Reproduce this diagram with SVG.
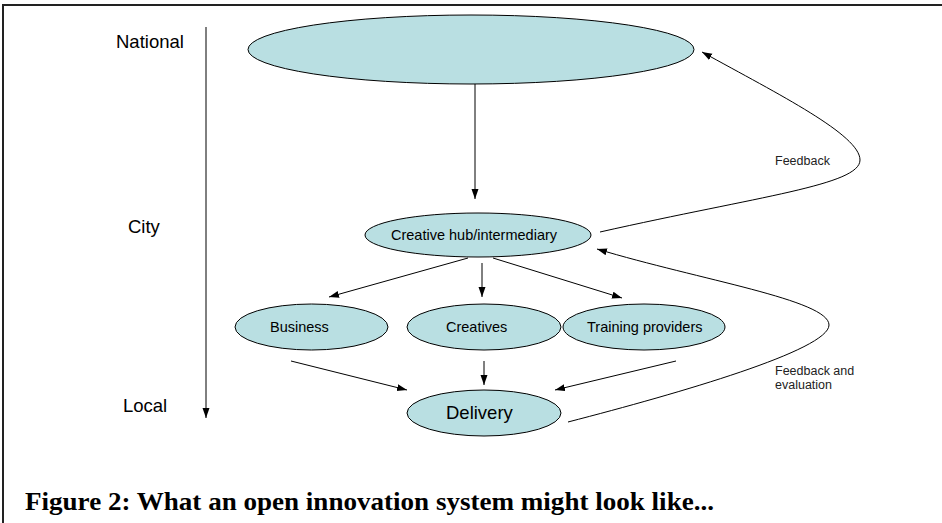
<svg xmlns="http://www.w3.org/2000/svg" width="942" height="523" viewBox="0 0 942 523">
  <style>
    .node { fill: #B9DFE2; stroke: #000; stroke-width: 1; }
    .lbl { font-family: "Liberation Sans", Arial, sans-serif; fill: #000; }
    .axis { font-size: 18.5px; }
    .small { font-size: 14.5px; }
    .note { font-size: 12.5px; fill: #222; }
    .edge { fill: none; stroke: #000; stroke-width: 1; marker-end: url(#arrow); }
    .caption { font-family: "Liberation Serif", "Times New Roman", serif; font-weight: bold; font-size: 26px; fill: #000; }
  </style>
  <defs>
    <marker id="arrow" markerUnits="userSpaceOnUse" markerWidth="10" markerHeight="8" refX="10" refY="3.5" orient="auto">
      <path d="M0,0 L10,3.5 L0,7 z" fill="#000"/>
    </marker>
  </defs>

  <rect x="0" y="0" width="942" height="523" fill="#fff"/>

  <!-- frame: top and left rules -->
  <g id="frame" stroke="#222" stroke-width="2">
    <line x1="2" y1="5" x2="942" y2="5"/>
    <line x1="3" y1="4" x2="3" y2="523"/>
  </g>

  <!-- level axis -->
  <g id="axis">
    <line x1="206" y1="27" x2="206" y2="418" stroke="#000" stroke-width="1" marker-end="url(#arrow)"/>
    <text class="lbl axis" x="116" y="48">National</text>
    <text class="lbl axis" x="128" y="233">City</text>
    <text class="lbl axis" x="123" y="412">Local</text>
  </g>

  <g id="national">
    <ellipse class="node" cx="471" cy="49.5" rx="223" ry="34.5"/>
  </g>

  <g id="hub">
    <ellipse class="node" cx="478" cy="235" rx="113" ry="22"/>
    <text class="lbl small" x="391" y="240">Creative hub/intermediary</text>
  </g>

  <g id="business">
    <ellipse class="node" cx="311.5" cy="327" rx="76.5" ry="23"/>
    <text class="lbl small" x="270" y="332">Business</text>
  </g>

  <g id="creatives">
    <ellipse class="node" cx="484" cy="327" rx="77" ry="23"/>
    <text class="lbl small" x="446" y="332">Creatives</text>
  </g>

  <g id="training">
    <ellipse class="node" cx="644" cy="327" rx="81" ry="23"/>
    <text class="lbl small" x="587" y="332">Training providers</text>
  </g>

  <g id="delivery">
    <ellipse class="node" cx="484" cy="413" rx="77" ry="23"/>
    <text class="lbl" x="446" y="419" font-size="18.5">Delivery</text>
  </g>

  <g id="connectors">
    <line class="edge" x1="475" y1="84" x2="475" y2="199"/>
    <line class="edge" x1="468" y1="258" x2="329" y2="297"/>
    <line class="edge" x1="482" y1="263" x2="482" y2="297"/>
    <line class="edge" x1="493" y1="258" x2="622" y2="298"/>
    <line class="edge" x1="291" y1="361" x2="407" y2="390"/>
    <line class="edge" x1="484" y1="361" x2="484" y2="385"/>
    <line class="edge" x1="676" y1="361" x2="555" y2="390"/>
    <path class="edge" d="M600,232 C760,196 860,185 860,160 C860,135 780,95 702,52"/>
    <path class="edge" d="M568,422 C680,393 829,350 829,325 C829,300 700,280 597,249"/>
  </g>

  <g id="notes">
    <text class="lbl note" x="775" y="165">Feedback</text>
    <text class="lbl note" x="775" y="375">Feedback and</text>
    <text class="lbl note" x="775" y="389">evaluation</text>
  </g>

  <text class="caption" x="25" y="510" textLength="689" lengthAdjust="spacingAndGlyphs">Figure 2: What an open innovation system might look like...</text>
</svg>
